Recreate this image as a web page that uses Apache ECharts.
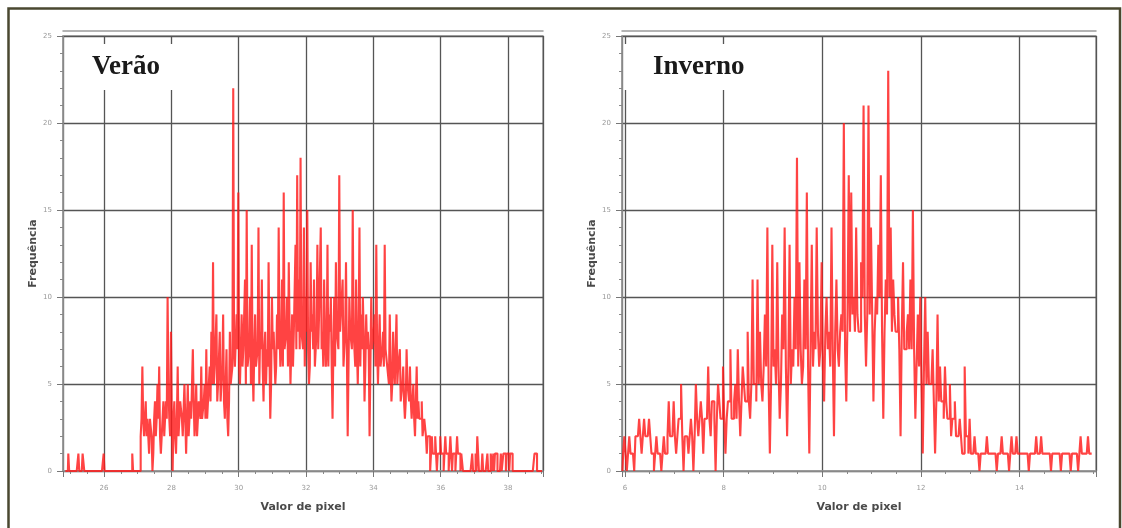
<!DOCTYPE html>
<html>
<head>
<meta charset="utf-8">
<script src="https://cdn.jsdelivr.net/npm/echarts@6/dist/echarts.min.js"></script>
<style>
html,body{margin:0;padding:0;background:#fff;}
#c{width:1122px;height:528px;}
</style>
</head>
<body>
<div id="c"></div>
<script>
// ---- texts ----
const veraoTitle = 'Verão';
const invernoTitle = 'Inverno';
const xName = 'Valor de pixel';
const yName = 'Frequência';

// ---- axis extents / ticks ----
const veraoRange = [24.78, 39.04];
const invernoRange = [5.94, 15.55];
const yRange = [0, 25];
const xTickStep = 2;
const yTickStep = 5;

// ---- Verão histogram: bins of 0.025 starting at 24.85 ----
// counts on even bins (24.85, 24.90, ...) and on odd bins (24.875, 24.925, ...)
const veraoStart = 24.85;
const veraoBin = 0.025;
const veraoEven = [
  0,0,1,0,0,0,0,0,1,0,0,1,0,0,0,0,0,0,0,0,
  0,0,0,1,0,0,0,0,0,0,0,0,0,0,0,0,0,0,0,0,
  1,0,0,0,0,2,6,2,4,3,1,3,0,3,2,5,6,1,3,2,
  4,10,3,8,0,4,1,6,3,4,2,5,1,5,2,3,7,2,5,3,
  4,6,3,5,7,4,6,8,12,6,9,5,8,4,9,3,7,2,8,5,
  22,6,9,16,5,9,7,11,15,6,10,13,4,9,6,14,8,11,4,8,
  7,12,3,10,8,5,9,14,6,11,16,7,10,12,5,9,8,13,17,11,
  18,8,14,10,15,5,12,9,11,7,13,9,14,8,11,6,13,9,10,3,
  10,12,8,17,9,11,6,12,2,10,8,15,7,11,5,14,9,10,4,9,
  8,2,10,7,9,13,5,9,6,8,13,7,6,9,4,8,5,9,6,7,
  4,6,3,7,5,6,3,5,2,6,4,3,4,2,3,1,2,0,2,1,
  2,0,1,2,1,0,2,1,0,2,0,1,0,2,1,0,1,0,0,0,
  0,0,1,0,1,2,0,0,1,0,0,1,0,1,0,0,1,0,0,1,
  0,1,0,1,0,1,0,0,0,0,0,0,0,0,0,0,0,0,0,1,
  1,0,0,0
];
const veraoOdd = [
  0,0,0,0,0,0,0,0,0,0,1,0,0,0,0,0,0,0,0,0,
  0,0,0,0,0,0,0,0,0,0,0,0,0,0,0,0,0,0,0,0,
  0,0,0,0,0,3,3,3,2,2,3,2,1,4,3,3,2,2,4,3,
  3,5,2,3,3,2,3,2,4,3,2,3,3,2,4,3,4,3,2,4,
  3,3,4,3,3,5,4,5,5,6,4,5,4,6,4,5,3,4,5,6,
  7,6,7,6,5,6,7,5,6,7,5,6,7,6,7,5,7,6,7,5,
  6,7,5,7,8,6,7,8,7,6,7,8,6,8,7,6,8,7,8,7,
  8,7,6,8,7,6,8,7,6,8,7,9,7,6,8,7,6,8,6,7,
  6,8,7,8,9,6,8,7,6,8,7,8,6,7,8,6,7,8,6,7,
  7,6,7,8,6,7,7,6,7,6,7,6,5,6,5,6,5,5,6,4,
  5,4,4,5,4,4,4,3,4,3,3,3,2,3,2,2,2,1,1,1,
  1,1,1,1,1,1,1,1,1,1,1,1,1,1,1,1,0,0,0,0,
  0,0,0,0,0,1,0,0,0,0,0,0,0,1,1,1,1,0,0,0,
  1,1,1,1,1,1,0,0,0,0,0,0,0,0,0,0,0,0,0,1,
  0,0,0,0
];

// ---- Inverno histogram: bins of 0.025 starting at 5.95 ----
const invernoStart = 5.95;
const invernoBin = 0.025;
const invernoEven = [
  0,2,0,2,1,0,2,3,1,3,2,3,1,0,2,1,0,2,1,4,
  2,4,1,3,5,0,2,1,3,0,5,2,4,1,3,6,2,4,0,5,
  3,6,1,4,7,3,5,7,2,6,4,8,3,11,5,11,8,4,9,14,
  1,13,7,12,3,9,14,2,13,7,10,18,12,5,11,16,1,13,8,14,
  6,12,4,10,8,14,2,11,6,9,20,4,17,16,10,14,8,12,21,6,
  21,14,4,10,13,17,3,11,23,14,11,8,10,2,12,7,9,11,15,3,
  9,10,1,10,8,5,7,1,9,6,4,6,3,5,3,4,2,3,1,6,
  2,3,1,2,1,0,1,1,2,1,1,1,0,1,2,1,1,0,2,1,
  2,1,1,1,1,0,1,1,2,1,2,1,1,1,0,1,1,1,0,1,
  1,1,0,1,1,0,2,1,1,2,1
];
const invernoOdd = [
  1,1,1,1,1,2,2,2,2,2,2,2,1,1,1,1,1,1,2,2,
  2,2,2,3,2,2,2,2,2,2,3,3,3,3,3,3,4,3,3,4,
  3,3,3,4,3,4,3,4,4,5,4,4,5,5,4,5,5,6,6,5,
  5,6,5,6,5,7,6,6,5,6,7,6,7,6,7,6,7,6,7,8,
  7,6,8,7,6,7,8,7,8,8,7,9,8,9,8,9,8,10,9,9,
  9,9,8,9,10,8,8,9,10,8,9,8,7,8,7,8,7,7,7,6,
  6,5,6,5,5,5,4,4,4,4,3,4,3,2,3,2,2,2,1,2,
  1,1,1,1,1,1,1,1,1,1,1,1,1,1,1,1,1,1,1,1,
  1,1,1,1,1,1,1,1,1,1,1,1,1,1,1,1,1,1,1,1,
  1,1,1,1,1,1,1,1,1,1,1
];

function pairs(start, bin, even, odd) {
  const out = [];
  even.forEach((c, i) => {
    out.push([+(start + 2 * i * bin).toFixed(4), c]);
    if (i < odd.length) out.push([+(start + (2 * i + 1) * bin).toFixed(4), odd[i]]);
  });
  return out;
}

const chart = echarts.init(document.getElementById('c'), null, {renderer: 'canvas'});

const gridLine = {color: '#555', width: 1.3};
const frameCol = '#9a9a9a';

function xAxisFor(idx, range, splitNumber) {
  return {
    type: 'value', gridIndex: idx, min: range[0], max: range[1], splitNumber: splitNumber,
    name: xName, nameLocation: 'middle', nameGap: 31,
    nameTextStyle: {fontFamily: 'DejaVu Sans', fontWeight: 'bold', fontSize: 11, color: '#4a4a4a'},
    axisLine: {show: true, onZero: false, lineStyle: {color: frameCol, width: 1.5}},
    axisTick: {show: true, length: 6, lineStyle: {color: '#777'}},
    minorTick: {show: true, splitNumber: 4, length: 3, lineStyle: {color: '#888'}},
    axisLabel: {
      fontFamily: 'DejaVu Sans', fontSize: 7, color: '#999', margin: 14,
      formatter: v => (Math.abs(v / xTickStep - Math.round(v / xTickStep)) < 1e-6 ? String(Math.round(v)) : '')
    },
    splitLine: {show: true, lineStyle: gridLine}
  };
}
function xTopFor(idx, range) {
  return {
    type: 'value', gridIndex: idx, min: range[0], max: range[1], position: 'top', offset: 5,
    axisLine: {show: true, onZero: false, lineStyle: {color: frameCol, width: 1.5}},
    axisTick: {show: false}, axisLabel: {show: false}, splitLine: {show: false}
  };
}
function yAxisFor(idx) {
  return {
    type: 'value', gridIndex: idx, min: yRange[0], max: yRange[1], interval: yTickStep,
    name: yName, nameLocation: 'middle', nameGap: 24, nameRotate: 90,
    nameTextStyle: {fontFamily: 'DejaVu Sans', fontWeight: 'bold', fontSize: 11, color: '#4a4a4a'},
    axisLine: {show: true, lineStyle: {color: frameCol, width: 1.5}},
    axisTick: {show: true, length: 6, lineStyle: {color: '#777'}},
    minorTick: {show: true, splitNumber: 5, length: 3, lineStyle: {color: '#888'}},
    axisLabel: {fontFamily: 'DejaVu Sans', fontSize: 7, color: '#999', margin: 11},
    splitLine: {show: true, lineStyle: gridLine}
  };
}

const titleStyle = {fontFamily: 'Liberation Serif', fontWeight: 'bold', fontSize: 27, lineHeight: 30, color: '#1a1a1a'};
const redLine = {color: '#ff1a1a', width: 2.1, opacity: 0.82};

chart.setOption({
  animation: false,
  backgroundColor: '#fff',
  title: [
    {text: veraoTitle, left: 66, top: 44, backgroundColor: '#fff', padding: [8, 35, 8, 26], textStyle: titleStyle, z: 10},
    {text: invernoTitle, left: 624, top: 44, backgroundColor: '#fff', padding: [8, 30, 8, 29], textStyle: titleStyle, z: 10}
  ],
  grid: [
    {left: 63, right: 579, top: 36, bottom: 57, show: true, borderColor: frameCol, borderWidth: 1.5, backgroundColor: 'transparent'},
    {left: 622, right: 26, top: 36, bottom: 57, show: true, borderColor: frameCol, borderWidth: 1.5, backgroundColor: 'transparent'}
  ],
  xAxis: [xAxisFor(0, veraoRange, 7), xAxisFor(1, invernoRange, 5), xTopFor(0, veraoRange), xTopFor(1, invernoRange)],
  yAxis: [yAxisFor(0), yAxisFor(1)],
  series: [
    {type: 'line', step: 'middle', xAxisIndex: 0, yAxisIndex: 0, data: pairs(veraoStart, veraoBin, veraoEven, veraoOdd),
     showSymbol: false, symbol: 'none', sampling: null, lineStyle: redLine, z: 3},
    {type: 'line', step: 'middle', xAxisIndex: 1, yAxisIndex: 1, data: pairs(invernoStart, invernoBin, invernoEven, invernoOdd),
     showSymbol: false, symbol: 'none', sampling: null, lineStyle: redLine, z: 3}
  ],
  graphic: [
    {type: 'rect', z: 100, silent: true,
     shape: {x: 8.5, y: 8.5, width: 1111.5, height: 560},
     style: {fill: 'none', stroke: '#4a4830', lineWidth: 2.5}}
  ]
});
</script>
</body>
</html>
